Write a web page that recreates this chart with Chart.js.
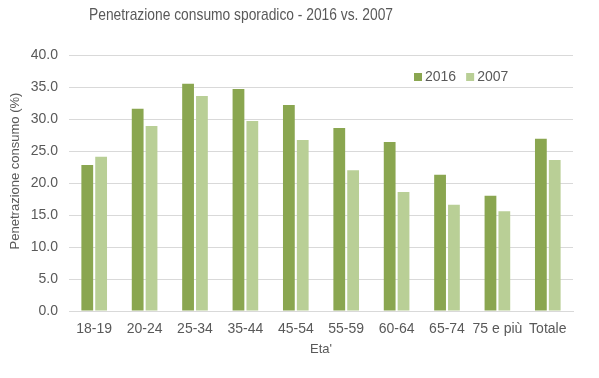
<!DOCTYPE html>
<html>
<head>
<meta charset="utf-8">
<script src="https://cdn.jsdelivr.net/npm/chart.js@4/dist/chart.umd.min.js"></script>
<style>
html,body{margin:0;padding:0;background:#fff;}
#wrap{width:599px;height:378px;}
</style>
</head>
<body>
<div id="wrap"><canvas id="c" width="599" height="378"></canvas></div>
<script>
const categories = ["18-19","20-24","25-34","35-44","45-54","55-59","60-64","65-74","75 e più","Totale"];
const values2016 = [22.8,31.6,35.5,34.7,32.2,28.6,26.4,21.3,18.0,26.9];
const values2007 = [24.1,28.9,33.6,29.7,26.7,22.0,18.6,16.6,15.6,23.6];
const seriesNames = ["2016","2007"];
const titleText = "Penetrazione consumo sporadico - 2016 vs. 2007";
const yTitleText = "Penetrazione consumo (%)";
const xTitleText = "Eta'";
const colors = ["#8aa650","#b9cf96"];
const textColor = "#595959";
const FONT = "'Liberation Sans', Arial, sans-serif";
const NARROW = "'Liberation Sans Narrow', 'Arial Narrow', 'Liberation Sans', sans-serif";

const textPlugin = {
  id: 'customTexts',
  afterDraw(chart) {
    const ctx = chart.ctx;
    const area = chart.chartArea;
    ctx.save();
    ctx.fillStyle = textColor;
    // title (narrow look)
    ctx.font = "17px " + NARROW;
    ctx.textAlign = 'center';
    ctx.textBaseline = 'middle';
    ctx.fillText(titleText, 241, 15, 304);
    // x title
    ctx.font = "13px " + FONT;
    ctx.fillText(xTitleText, (area.left + area.right) / 2, 349);
    // y title
    ctx.save();
    ctx.translate(15, 171);
    ctx.rotate(-Math.PI / 2);
    ctx.fillText(yTitleText, 0, 0);
    ctx.restore();
    // legend
    ctx.font = "14px " + FONT;
    ctx.textAlign = 'left';
    let x = 414, y = 77;
    chart.data.datasets.forEach((ds) => {
      ctx.fillStyle = ds.backgroundColor;
      ctx.fillRect(x, y - 4, 8, 8);
      ctx.fillStyle = textColor;
      ctx.fillText(ds.label, x + 11, y);
      x += 11 + ctx.measureText(ds.label).width + 10;
    });
    ctx.restore();
  }
};

new Chart(document.getElementById('c'), {
  type: 'bar',
  data: {
    labels: categories,
    datasets: [
      {label: seriesNames[0], data: values2016, backgroundColor: colors[0]},
      {label: seriesNames[1], data: values2007, backgroundColor: colors[1]}
    ]
  },
  options: {
    responsive: false,
    animation: false,
    devicePixelRatio: 1,
    layout: {padding: {left: 29, right: 26, top: 55, bottom: 27}},
    datasets: {bar: {categoryPercentage: 0.55, barPercentage: 0.85}},
    plugins: {
      legend: {display: false},
      tooltip: {enabled: false},
      title: {display: false}
    },
    scales: {
      x: {
        afterFit: s => { s.height = 40; },
        grid: {display: false, drawTicks: false},
        border: {color: '#d9d9d9'},
        ticks: {color: textColor, font: {family: FONT, size: 14}, padding: 10, maxRotation: 0, autoSkip: false}
      },
      y: {
        afterFit: s => { s.width = 40; },
        min: 0, max: 40,
        ticks: {stepSize: 5, color: textColor, font: {family: FONT, size: 14}, padding: 11,
          callback: v => Number(v).toFixed(1)},
        grid: {color: '#d9d9d9', drawTicks: false},
        border: {display: false}
      }
    }
  },
  plugins: [textPlugin]
});
</script>
</body>
</html>
